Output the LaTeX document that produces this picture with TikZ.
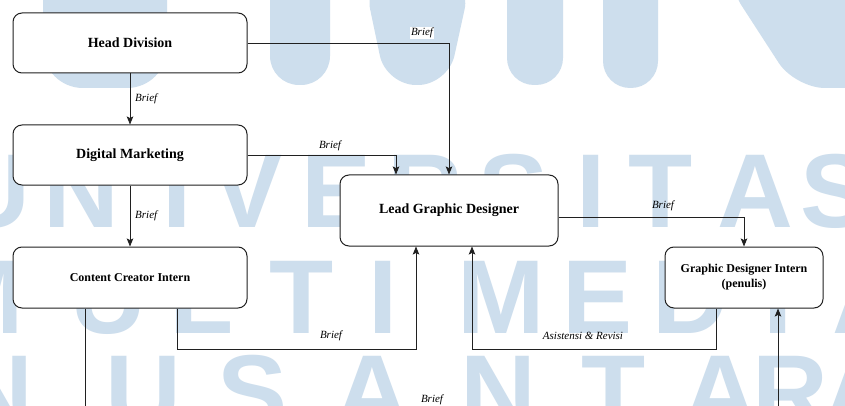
\documentclass[tikz,border=0pt]{standalone}
\usepackage{fontspec}
\setmainfont{Liberation Serif}
\newfontfamily\wmfont{Liberation Sans}
\usetikzlibrary{arrows.meta,calc}
\definecolor{wmblue}{RGB}{205,222,237}
\definecolor{linegray}{RGB}{32,32,32}
\tikzset{
  box/.style={draw=linegray, line width=1pt, rounded corners=9pt, fill=white,
    inner sep=0pt, align=center, font=\bfseries\fontsize{14}{16}\selectfont},
  smallbox/.style={box, font=\bfseries\fontsize{12}{15}\selectfont},
  flow/.style={draw=linegray, line width=0.9pt,
    -{Stealth[length=8pt,width=6.5pt,inset=1.5pt]}},
  lbl/.style={font=\itshape\fontsize{11}{13}\selectfont, inner sep=1pt},
  wm/.style={text=wmblue, font=\wmfont\bfseries\fontsize{105}{105}\selectfont,
    anchor=base, inner sep=0pt},
  wmshape/.style={fill=wmblue, draw=none}
}
\begin{document}
\begin{tikzpicture}[x=1pt,y=-1pt]
\useasboundingbox (0,0) rectangle (845,406);
\clip (0,0) rectangle (845,406);
\fill[white] (0,0) rectangle (845,406);

% background watermark: logo strokes
\fill[wmshape, rounded corners=40pt] (43,-60) -- (43,88) -- (167,88) -- (167,-60) -- cycle;
\fill[wmshape, rounded corners=29pt] (270,-60) -- (270,85) -- (330,85) -- (330,-60) -- cycle;
\fill[wmshape, rounded corners=30pt] (364,-20) -- (386,85) -- (448,85) -- (471,-20) -- cycle;
\fill[wmshape, rounded corners=27pt] (507,-60) -- (507,85) -- (563,85) -- (563,-60) -- cycle;
\fill[wmshape, rounded corners=27pt] (603,-60) -- (603,88) -- (658,88) -- (658,-60) -- cycle;
\fill[wmshape, rounded corners=30pt] (725,-20) -- (795,88) -- (900,88) -- (900,-20) -- cycle;

% background watermark: lettering
\foreach \ch/\x [count=\i] in {U/-8,N/81,I/177,V/248,E/337,R/425,S/514,I/591,T/661,A/755,S/836}
  \node[wm] (wa\i) at (\x,227) {\ch};
\foreach \ch/\x [count=\i] in {M/-20,U/108,L/202,T/302,I/383,M/501,E/598,D/690,I/778,A/870}
  \node[wm] (wb\i) at (\x,333) {\ch};
\foreach \ch/\x [count=\i] in {N/-5,U/143,S/253,A/372,N/498,T/614,A/720,R/790,A/860}
  \node[wm] (wc\i) at (\x,428) {\ch};

% boxes
\node[box, minimum width=234pt, minimum height=60pt] (head) at (130,43) {Head Division};
\node[box, minimum width=234pt, minimum height=60pt] (digm) at (130,155) {Digital Marketing};
\node[smallbox, minimum width=234pt, minimum height=61pt] (cci) at (130,277.5) {Content Creator Intern};
\node[box, minimum width=218pt, minimum height=71pt] (lead) at (449,210.5) {Lead Graphic Designer};
\node[smallbox, minimum width=158pt, minimum height=61pt] (gdi) at (744,277.5) {Graphic Designer Intern\\(penulis)};

\coordinate (low) at (430,425);

% connectors
\draw[flow] (head.east) -| (lead.north);
\draw[flow] (head.south) -- (digm.north);
\draw[flow] (digm.east) -| ([xshift=-53pt]lead.north);
\draw[flow] (digm.south) -- (cci.north);
\draw[flow] ([yshift=-6.5pt]lead.east) -| (gdi.north);
\draw[flow] ([xshift=47pt]cci.south) -- ++(0,41) -| ([xshift=-33pt]lead.south);
\draw[flow] ([xshift=-28pt]gdi.south) -- ++(0,41) -| ([xshift=23pt]lead.south);
\draw[flow] ([xshift=-45pt]cci.south) |- (low) -| ([xshift=34pt]gdi.south);

% connector labels
\node[lbl, fill=white] (l1) at (422,33) {Brief};
\node[lbl, anchor=west] (l2) at (134,99) {Brief};
\node[lbl] (l3) at (330,146) {Brief};
\node[lbl, anchor=west] (l4) at (134,216) {Brief};
\node[lbl] (l5) at (663,206) {Brief};
\node[lbl] (l6) at (331,336) {Brief};
\node[lbl] (l7) at (583,336) {Asistensi \& Revisi};
\node[lbl] (l8) at (432,400) {Brief};
\end{tikzpicture}
\end{document}
